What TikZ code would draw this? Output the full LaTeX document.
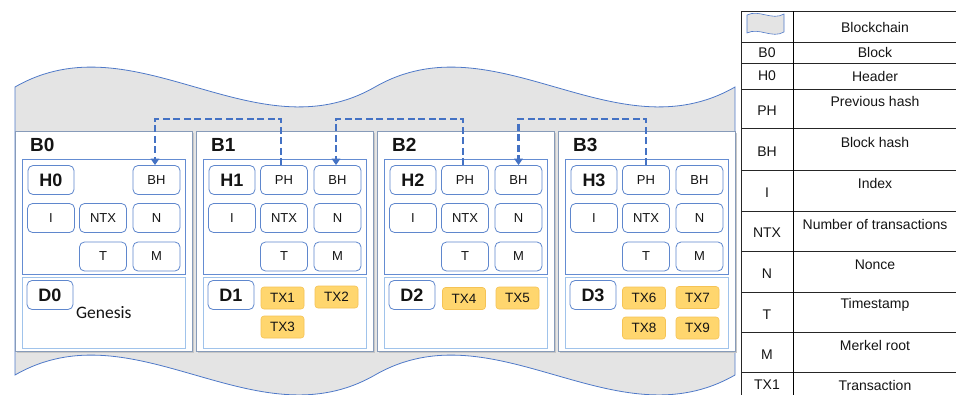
\documentclass[tikz,border=0pt]{standalone}
\usepackage{fontspec}
\setmainfont{Liberation Sans}
\newfontfamily\genfont{Carlito}
\usetikzlibrary{arrows.meta}
\definecolor{wavefill}{RGB}{228,228,228}
\definecolor{waveline}{RGB}{79,121,200}
\definecolor{blockline}{RGB}{135,155,185}
\definecolor{hdrline}{RGB}{100,140,210}
\definecolor{cellline}{RGB}{95,135,205}
\definecolor{dataline}{RGB}{160,195,235}
\definecolor{txfill}{RGB}{255,214,110}
\definecolor{txline}{RGB}{245,195,85}
\definecolor{arrowblue}{RGB}{68,114,196}
\definecolor{txtcol}{RGB}{20,20,20}
\tikzset{
  wave/.style={fill=wavefill, draw=waveline, line width=0.8pt},
  blockbox/.style={draw=blockline, fill=white, line width=0.9pt, minimum width=177pt, minimum height=220pt, inner sep=0pt, anchor=north west},
  blockshadow/.style={fill=black!22},
  hdrbox/.style={draw=hdrline, line width=0.8pt, minimum width=163pt, minimum height=115pt, inner sep=0pt, anchor=north west},
  databox/.style={draw=dataline, line width=1pt, minimum width=163pt, minimum height=71pt, inner sep=0pt, anchor=north west},
  cell/.style={draw=cellline, rounded corners=5pt, fill=white, minimum width=47pt, minimum height=29pt, inner sep=0pt, line width=0.8pt, text=txtcol, font=\fontsize{13}{15}\selectfont},
  idcell/.style={cell, minimum width=46pt, font=\fontsize{18}{20}\selectfont\bfseries},
  tx/.style={draw=txline, fill=txfill, rounded corners=3pt, minimum width=43pt, minimum height=22pt, inner sep=0pt, line width=0.6pt, text=txtcol, font=\fontsize{13.5}{15}\selectfont},
  blabel/.style={anchor=west, inner sep=0pt, text=txtcol, font=\fontsize{19}{21}\selectfont\bfseries},
  link/.style={draw=arrowblue, line width=2.5pt, dash pattern=on 7pt off 3.5pt, -{Triangle[width=8.5pt,length=6.5pt]}},
  tline/.style={draw=black!85, line width=0.8pt},
  ttext/.style={inner sep=0pt, text=txtcol, font=\fontsize{14}{16}\selectfont}
}
\begin{document}
\begin{tikzpicture}[x=1pt,y=-1pt]
\useasboundingbox (0,0) rectangle (956,394);
% blockchain band
\path[wave] (15,87) .. controls (135,18) and (255,156) .. (375,87)
  .. controls (495,18) and (615,156) .. (735,87) -- (735,375)
  .. controls (615,444) and (495,306) .. (375,375)
  .. controls (255,444) and (135,306) .. (15,375) -- cycle;
% blocks
\foreach \i/\x in {0/15,1/196,2/377,3/558}{
  \fill[blockshadow] (\x+1.5,132.5) rectangle ++(177,220);
  \node[blockbox] (B\i) at (\x,131) {};
  \node[blabel] (BL\i) at (\x+15,145) {B\i};
  \node[hdrbox] (HB\i) at (\x+7,159) {};
  \node[databox] (DB\i) at (\x+7,277) {};
  \node[idcell] (H\i) at (\x+36,180) {H\i};
  \node[cell] (BH\i) at (\x+141.5,180) {BH};
  \node[cell] (I\i) at (\x+36,218) {I};
  \node[cell] (NTX\i) at (\x+88,218) {NTX};
  \node[cell] (N\i) at (\x+141.5,218) {N};
  \node[cell] (T\i) at (\x+88,256.5) {T};
  \node[cell] (M\i) at (\x+141.5,256.5) {M};
  \node[idcell] (D\i) at (\x+35,295) {D\i};
}
\foreach \i/\x in {1/196,2/377,3/558}{
  \node[cell] (PH\i) at (\x+88,180) {PH};
}
\node[anchor=west, inner sep=0pt, text=txtcol, font=\genfont\fontsize{17.5}{20}\selectfont] (gen) at (76,313) {Genesis};
% transactions
\node[tx] (TX1) at (282.5,298) {TX1};
\node[tx] (TX2) at (336.5,297) {TX2};
\node[tx] (TX3) at (282.5,327) {TX3};
\node[tx] (TX4) at (464,298.5) {TX4};
\node[tx] (TX5) at (517.5,298) {TX5};
\node[tx] (TX6) at (644,298) {TX6};
\node[tx] (TX7) at (697.5,297.5) {TX7};
\node[tx] (TX8) at (644,328) {TX8};
\node[tx] (TX9) at (697.5,328) {TX9};
% links
\coordinate (lk) at (0,119);
\draw[link] ([xshift=-3pt]PH1.north) -- ([xshift=-3pt]PH1.north |- lk) -| ([xshift=-1.5pt]BH0.north);
\draw[link] ([xshift=-2pt]PH2.north) -- ([xshift=-2pt]PH2.north |- lk) -| ([xshift=-1.5pt]BH1.north);
\draw[link] (PH3.north) -- (PH3.north |- lk) -| (BH2.north);
% legend table
\draw[tline] (741,11) -- (960,11);
\foreach \yy in {42,63,89,128,170,211,251,292,332,372}{
  \draw[tline] (741,\yy) -- (960,\yy);
}
\draw[tline] (741,11) -- (741,400);
\draw[line width=1pt, draw=black] (793,11) -- (793,400);
\path[wave, line width=0.6pt] (747,15) .. controls (759,9) and (772,21) .. (784,14) -- (784,32)
  .. controls (772,39) and (759,27) .. (747,33) -- cycle;
\node[ttext] (lg1) at (875,27) {Blockchain};
\node[ttext] (lk2) at (767,52.5) {B0};
\node[ttext] (lg2) at (875,52.5) {Block};
\node[ttext] (lk3) at (767,76) {H0};
\node[ttext] (lg3) at (875,76) {Header};
\node[ttext] (lk4) at (767,111) {PH};
\node[ttext] (lg4) at (875,101) {Previous hash};
\node[ttext] (lk5) at (767,152) {BH};
\node[ttext] (lg5) at (875,142) {Block hash};
\node[ttext] (lk6) at (767,193) {I};
\node[ttext] (lg6) at (875,183) {Index};
\node[ttext] (lk7) at (767,233) {NTX};
\node[ttext] (lg7) at (875,224) {Number of transactions};
\node[ttext] (lk8) at (767,274) {N};
\node[ttext] (lg8) at (875,265) {Nonce};
\node[ttext] (lk9) at (767,315) {T};
\node[ttext] (lg9) at (875,305) {Timestamp};
\node[ttext] (lk10) at (767,355) {M};
\node[ttext] (lg10) at (875,345) {Merkel root};
\node[ttext] (lk11) at (767,385) {TX1};
\node[ttext] (lg11) at (875,385) {Transaction};
\end{tikzpicture}
\end{document}
